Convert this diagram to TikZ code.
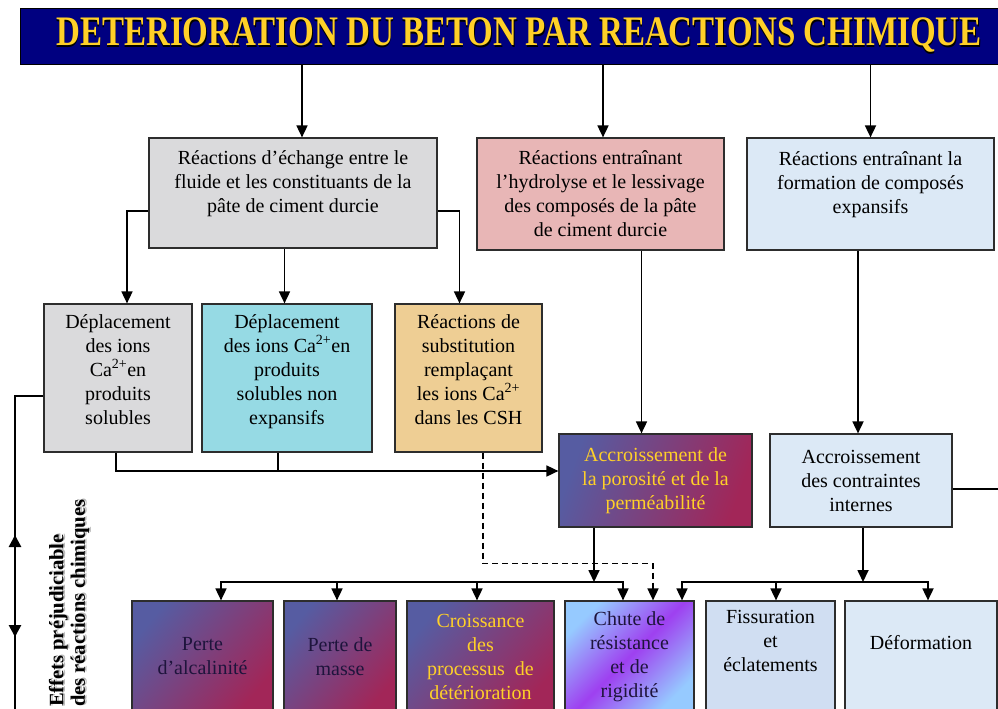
\documentclass[tikz,border=0pt]{standalone}
\usepackage{fontspec}
\setmainfont{Liberation Serif}
\usetikzlibrary{arrows.meta}
\definecolor{bleunuit}{RGB}{0,0,128}
\definecolor{or}{RGB}{255,208,40}
\definecolor{bord}{RGB}{45,45,45}
\definecolor{marbre}{RGB}{218,218,220}
\definecolor{rose}{RGB}{232,182,182}
\definecolor{ciel}{RGB}{220,233,246}
\definecolor{glace}{RGB}{208,222,242}
\definecolor{aqua}{RGB}{150,218,228}
\definecolor{sable}{RGB}{238,206,148}
\definecolor{pbleu}{RGB}{86,92,162}
\definecolor{prouge}{RGB}{162,38,88}
\definecolor{cbleu}{RGB}{150,202,255}
\definecolor{cviolet}{RGB}{158,64,240}
\definecolor{encre}{RGB}{30,20,60}
\pgfdeclarehorizontalshading{violetrouge}{100bp}{color(0bp)=(pbleu); color(25bp)=(pbleu); color(75bp)=(prouge); color(100bp)=(prouge)}
\pgfdeclarehorizontalshading{chuteshade}{100bp}{color(0bp)=(cbleu); color(25bp)=(cbleu); color(50bp)=(cviolet); color(75bp)=(cbleu); color(100bp)=(cbleu)}
\newcommand{\ombre}[2]{\makebox[0pt][l]{\kern0.8pt\raisebox{-1.8pt}{\color{#1}#2}}#2}
\begin{document}
\begin{tikzpicture}[x=1pt,y=-1pt,
  boite/.style={draw=bord,line width=1.2pt,inner sep=0pt,align=center,font=\fontsize{20}{24}\selectfont},
  effet/.style={boite,minimum height=111pt},
  degrade/.style={shade,shading=violetrouge,shading angle=-40},
  fleche/.style={-{Triangle[length=12pt,width=11pt]},line width=1.7pt},
  fleche double/.style={{Triangle[length=12pt,width=12pt]}-{Triangle[length=12pt,width=12pt]},line width=2.6pt}]
\useasboundingbox (0,0) rectangle (998,709);
\clip (0,0) rectangle (998,709);
\node[draw=black,fill=bleunuit,text=or,minimum width=998pt,minimum height=56pt,inner sep=0pt,
  font=\fontsize{42}{42}\selectfont\bfseries] (titre) at (519,36)
  {\scalebox{0.786}[1]{\ombre{black}{DETERIORATION DU BETON PAR REACTIONS CHIMIQUE}}};
\node[boite,fill=marbre,minimum width=288pt,minimum height=110pt] (echange) at (293,193)
  {Réactions d’échange entre le\\fluide et les constituants de la\\pâte de ciment durcie\\[-8pt]\strut};
\node[boite,fill=rose,minimum width=247pt,minimum height=112pt] (hydrolyse) at (600.5,194)
  {Réactions entraînant\\l’hydrolyse et le lessivage\\des composés de la pâte\\de ciment durcie};
\node[boite,fill=ciel,minimum width=247pt,minimum height=112pt] (expansif) at (870.5,194)
  {Réactions entraînant la\\formation de composés\\expansifs\\[-8pt]\strut};
\node[boite,fill=marbre,minimum width=148pt,minimum height=148pt] (solubles) at (118,378)
  {Déplacement\\des ions\\Ca\textsuperscript{2+}en\\produits\\solubles\\[-14pt]\strut};
\node[boite,fill=aqua,minimum width=170pt,minimum height=148pt] (nonexp) at (287,378)
  {Déplacement\\des ions Ca\textsuperscript{2+}en\\produits\\solubles non\\expansifs\\[-14pt]\strut};
\node[boite,fill=sable,minimum width=147pt,minimum height=148pt] (substitution) at (468.5,378)
  {Réactions de\\substitution\\remplaçant\\les ions Ca\textsuperscript{2+}\\dans les CSH\\[-14pt]\strut};
\node[boite,degrade,shading angle=-20,text=or,minimum width=193pt,minimum height=93pt] (porosite) at (655.5,480.5)
  {Accroissement de\\la porosité et de la\\perméabilité};
\node[boite,fill=ciel,minimum width=182pt,minimum height=93pt] (contraintes) at (861,480.5)
  {Accroissement\\des contraintes\\internes};
\node[effet,degrade,text=encre,minimum width=141pt] (alcalinite) at (202.5,656.5) {Perte\\d’alcalinité};
\node[effet,degrade,text=encre,minimum width=112pt] (masse) at (340,656.5) {Perte de\\masse};
\node[effet,degrade,text=or,minimum width=147pt] (croissance) at (480.5,656.5)
  {Croissance\\des\\processus~ de\\détérioration};
\node[effet,shade,shading=chuteshade,shading angle=-45,text=encre,minimum width=129pt] (chute) at (629.5,656.5)
  {Chute de\\résistance\\et de\\rigidité};
\node[effet,fill=glace,minimum width=129pt] (fissuration) at (770.5,656.5)
  {Fissuration\\et\\éclatements\\\strut};
\node[effet,fill=ciel,minimum width=152pt] (deformation) at (921,656.5)
  {\strut\\Déformation\\\strut\\\strut};
\draw[fleche] ([xshift=9pt]echange.north |- titre.south) -- ([xshift=9pt]echange.north);
\draw[fleche] ([xshift=2.5pt]hydrolyse.north |- titre.south) -- ([xshift=2.5pt]hydrolyse.north);
\draw[fleche] (expansif.north |- titre.south) -- (expansif.north);
\draw[fleche] ([yshift=-18pt]echange.west) -| ([xshift=9pt]solubles.north);
\draw[fleche] ([xshift=-2.5pt]nonexp.north |- echange.south) -- ([xshift=-2.5pt]nonexp.north);
\draw[fleche] ([yshift=-18pt]echange.east) -| ([xshift=-9pt]substitution.north);
\draw[fleche] ([xshift=-14pt]porosite.north |- hydrolyse.south) -- ([xshift=-14pt]porosite.north);
\draw[fleche] ([xshift=-3pt]contraintes.north |- expansif.south) -- ([xshift=-3pt]contraintes.north);
\draw[fleche] ([xshift=-2pt]solubles.south) |- ([yshift=9.5pt]porosite.west);
\draw[line width=1.7pt] ([xshift=-9pt]nonexp.south) -- ++(0,19);
\draw[fleche,dash pattern=on 6pt off 4pt] ([xshift=14.5pt]substitution.south) -- ++(0,111) -| ([xshift=23.5pt]chute.north);
\coordinate (bus1) at (594,582);
\coordinate (bus2) at (863,582);
\draw[fleche] (porosite.south -| bus1) -- (bus1);
\draw[fleche] (contraintes.south -| bus2) -- (bus2);
\foreach \b/\d in {alcalinite/18.5,masse/-3,croissance/-3.5,chute/-6.5}
  \draw[fleche] (bus1) -| ([xshift=\d pt]\b.north);
\foreach \b/\d in {chute/52.5,fissuration/5.5,deformation/7}
  \draw[fleche] (bus2) -| ([xshift=\d pt]\b.north);
\coordinate (droite) at (1005,489);
\draw[line width=1.7pt] ([yshift=-8.5pt]contraintes.east) -- (droite);
\coordinate (gauche) at (15,720);
\draw[line width=1.7pt] ([yshift=-18pt]solubles.west) -| (gauche);
\coordinate (effethaut) at (15,535);
\coordinate (effetbas) at (15,637);
\draw[fleche double] (effethaut) -- (effetbas);
\node[rotate=90,anchor=west,align=left,inner sep=0pt,font=\fontsize{20.5}{18.5}\selectfont\bfseries] (effets) at (70,707)
  {\ombre{gray!55}{Effets préjudiciable}\\\ombre{gray!55}{des réactions chimiques}};
\end{tikzpicture}
\end{document}
